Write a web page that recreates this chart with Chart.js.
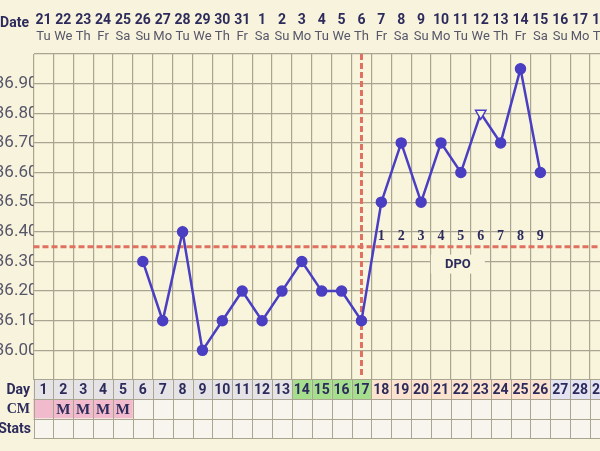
<!DOCTYPE html>
<html><head><meta charset="utf-8">
<script src="https://cdn.jsdelivr.net/npm/chart.js@4/dist/chart.umd.min.js"></script>
<style>html,body{margin:0;padding:0;background:#f8f3dc;overflow:hidden}</style>
</head><body>
<canvas id="c" width="600" height="451"></canvas>
<script>
// ---- data ----
const cycleDays = [1,2,3,4,5,6,7,8,9,10,11,12,13,14,15,16,17,18,19,20,21,22,23,24,25,26,27,28,29];
const dateLabels = ['21','22','23','24','25','26','27','28','29','30','31','1','2','3','4','5','6','7','8','9','10','11','12','13','14','15','16','17','18'];
const weekdayLabels = ['Tu','We','Th','Fr','Sa','Su','Mo','Tu','We','Th','Fr','Sa','Su','Mo','Tu','We','Th','Fr','Sa','Su','Mo','Tu','We','Th','Fr','Sa','Su','Mo','Tu'];
const tempDays = [6,7,8,9,10,11,12,13,14,15,16,17,18,19,20,21,22,23,24,25,26];
const temps = [36.30,36.10,36.40,36.00,36.10,36.20,36.10,36.20,36.30,36.20,36.20,36.10,36.50,36.70,36.50,36.70,36.60,36.80,36.70,36.95,36.60];
const openMarkerDays = [23];
const coverline = 36.35;
const ovulationDay = 17;
const dpoDays = [18,19,20,21,22,23,24,25,26];
const dpoLabels = ['1','2','3','4','5','6','7','8','9'];
const cmDays = [2,3,4,5];
const cmLabels = ['M','M','M','M'];
const periodDays = [1,2,3,4,5];
const fertileDays = [14,15,16,17];
const lutealDays = [18,19,20,21,22,23,24,25,26];
const futureDays = [27,28,29];
const yTickValues = [35.90,35.95,36.00,36.05,36.10,36.15,36.20,36.25,36.30,36.35,36.40,36.45,36.50,36.55,36.60,36.65,36.70,36.75,36.80,36.85,36.90,36.95,37.00];

// ---- styles ----
const BG = '#f8f3dc';
const PLOT_BG = '#f9f5dd';
const GRID = '#a9a590';
const LINE = '#4a3ec2';
const RED = '#e0705f';
const NAVY = '#2d2b5c';
const GRAYTXT = '#56566a';

const pointStyles = tempDays.map(d => openMarkerDays.includes(d) ? 'triangle' : 'circle');
const pointRot = tempDays.map(d => openMarkerDays.includes(d) ? 180 : 0);
const pointBg = tempDays.map(d => openMarkerDays.includes(d) ? PLOT_BG : LINE);
const pointRad = tempDays.map(d => openMarkerDays.includes(d) ? 6 : 5);

const bgPlugin = {
  id: 'bg',
  beforeDraw(chart) {
    const {ctx, chartArea: a} = chart;
    ctx.save();
    ctx.fillStyle = BG;
    ctx.fillRect(0, 0, chart.width, chart.height);
    ctx.fillStyle = PLOT_BG;
    ctx.fillRect(a.left, a.top, a.right - a.left, a.bottom - a.top);
    ctx.restore();
  },
  beforeDatasetsDraw(chart) {
    const {ctx, chartArea: a, scales: {x, y}} = chart;
    ctx.save();
    const dpoMid = (dpoDays[0] + dpoDays[dpoDays.length - 1]) / 2;
    const cy = y.getPixelForValue(coverline);
    const bx = x.getPixelForValue(dpoMid) - 3;
    ctx.fillStyle = PLOT_BG;
    ctx.fillRect(bx - 27, cy + 8, 54, 19);
    ctx.fillStyle = NAVY;
    ctx.font = 'bold 13px Roboto';
    ctx.textAlign = 'center';
    ctx.textBaseline = 'middle';
    ctx.fillText('DPO', bx, cy + 18);
    ctx.strokeStyle = RED;
    ctx.lineWidth = 3;
    ctx.setLineDash([6, 3]);
    ctx.beginPath();
    ctx.moveTo(a.left, cy);
    ctx.lineTo(a.right, cy);
    ctx.stroke();
    const ox = x.getPixelForValue(ovulationDay);
    ctx.beginPath();
    ctx.moveTo(ox, a.top);
    ctx.lineTo(ox, a.bottom - 2);
    ctx.stroke();
    ctx.setLineDash([]);
    ctx.fillStyle = NAVY;
    ctx.font = 'bold 14px "Liberation Serif"';
    dpoDays.forEach((d, i) => ctx.fillText(dpoLabels[i], x.getPixelForValue(d), cy - 10));
    ctx.restore();
  },
  afterDraw(chart) {
    const {ctx, chartArea: a, scales: {x}} = chart;
    const step = x.getPixelForValue(2) - x.getPixelForValue(1);
    ctx.save();
    ctx.textAlign = 'center';
    ctx.textBaseline = 'middle';
    cycleDays.forEach((d, i) => {
      const px = x.getPixelForValue(d);
      ctx.fillStyle = NAVY;
      ctx.font = 'bold 14px Roboto';
      ctx.fillText(dateLabels[i], px, 20);
      ctx.fillStyle = GRAYTXT;
      ctx.font = '13px Roboto';
      ctx.fillText(weekdayLabels[i], px, 37);
    });
    ctx.textAlign = 'right';
    ctx.fillStyle = NAVY;
    ctx.font = 'bold 14px Roboto';
    ctx.fillText('Date', 29, 23);
    const rows = [[a.bottom, 399], [399, 418.5], [418.5, 438]];
    cycleDays.forEach(d => {
      const l = x.getPixelForValue(d - 0.5), w = step;
      let c = '#e5e3e6';
      if (fertileDays.includes(d)) c = '#a5de8d';
      else if (lutealDays.includes(d)) c = '#fbe3cf';
      else if (futureDays.includes(d)) c = '#e3e3f2';
      ctx.fillStyle = c;
      ctx.fillRect(l, rows[0][0], w, rows[0][1] - rows[0][0]);
      ctx.fillStyle = periodDays.includes(d) ? '#f2bacd' : '#f7f5ee';
      ctx.fillRect(l, rows[1][0], w, rows[1][1] - rows[1][0]);
      ctx.fillStyle = '#f7f5ee';
      ctx.fillRect(l, rows[2][0], w, rows[2][1] - rows[2][0]);
    });
    ctx.strokeStyle = GRID;
    ctx.lineWidth = 1;
    ctx.beginPath();
    cycleDays.forEach(d => {
      const l = Math.round(x.getPixelForValue(d - 0.5)) + 0.5;
      ctx.moveTo(l, rows[0][0]); ctx.lineTo(l, rows[2][1]);
    });
    [rows[0][1], rows[1][1], rows[2][1]].forEach(yy => {
      const yp = Math.round(yy) + 0.5;
      ctx.moveTo(a.left, yp); ctx.lineTo(a.right, yp);
    });
    ctx.stroke();
    ctx.textAlign = 'center';
    ctx.fillStyle = NAVY;
    ctx.font = 'bold 14px Roboto';
    cycleDays.forEach(d => ctx.fillText(String(d), x.getPixelForValue(d), (rows[0][0] + rows[0][1]) / 2 + 1));
    ctx.font = 'bold 15px "Liberation Serif"';
    cmDays.forEach((d, i) => ctx.fillText(cmLabels[i], x.getPixelForValue(d), (rows[1][0] + rows[1][1]) / 2 + 1));
    ctx.textAlign = 'right';
    ctx.font = 'bold 14px Roboto';
    ctx.fillText('Day', 30, (rows[0][0] + rows[0][1]) / 2 + 1);
    ctx.font = 'bold 14px "Liberation Serif"';
    ctx.fillText('CM', 30, (rows[1][0] + rows[1][1]) / 2 + 1);
    ctx.font = 'bold 14px Roboto';
    ctx.fillText('Stats', 31, (rows[2][0] + rows[2][1]) / 2 + 1);
    ctx.restore();
  }
};

new Chart(document.getElementById('c'), {
  type: 'line',
  data: {
    datasets: [{
      data: tempDays.map((d, i) => ({x: d, y: temps[i]})),
      borderColor: LINE,
      borderWidth: 2.5,
      tension: 0,
      pointStyle: pointStyles,
      rotation: pointRot,
      pointBackgroundColor: pointBg,
      pointBorderColor: LINE,
      pointBorderWidth: 1.5,
      pointRadius: pointRad
    }]
  },
  options: {
    responsive: false,
    animation: false,
    devicePixelRatio: 1,
    layout: {autoPadding: false, padding: {top: 54, bottom: 71, left: 0, right: 0}},
    plugins: {legend: {display: false}, tooltip: {enabled: false}},
    scales: {
      x: {
        type: 'linear', min: 0.5, max: 29,
        afterBuildTicks: ax => { ax.ticks = cycleDays.map(d => ({value: d - 0.5})); },
        afterFit: s => { s.height = 0; },
        ticks: {display: false},
        grid: {color: GRID, lineWidth: 1.2, drawTicks: false},
        border: {display: false}
      },
      y: {
        min: 35.9, max: 37.0,
        afterBuildTicks: ax => { ax.ticks = yTickValues.map(v => ({value: v})); },
        afterFit: s => { s.width = 33.5; },
        ticks: {
          padding: -4,
          color: GRAYTXT,
          font: {family: 'Roboto', size: 17},
          callback: v => (Math.round(v * 100) % 10 === 0 && v > 35.95 && v < 36.95) ? v.toFixed(2) : ''
        },
        grid: {color: GRID, lineWidth: 1.2, drawTicks: false},
        border: {display: false}
      }
    }
  },
  plugins: [bgPlugin]
});
</script>
</body></html>
